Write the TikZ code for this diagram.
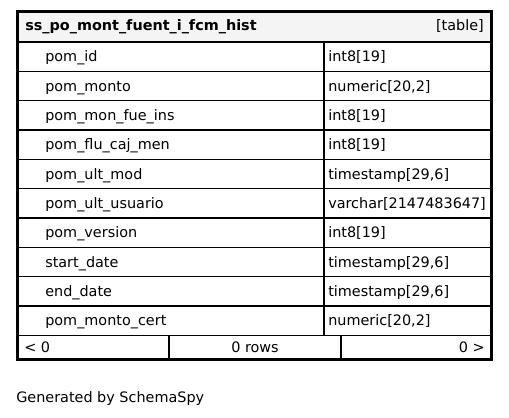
\documentclass[tikz,border=0pt]{standalone}
\usepackage{fontspec}
\setmainfont{DejaVu Sans}
\definecolor{headgray}{HTML}{F4F4F4}
\tikzset{
    cell/.style={anchor=base west,inner sep=0pt,font=\fontsize{10.8}{13}\selectfont},
    thinline/.style={line width=0.95pt},
    thickline/.style={line width=2.25pt}
}
\begin{document}
\begin{tikzpicture}[x=0.75pt,y=-0.75pt]
                \useasboundingbox (0,0) rectangle (509,417);

                % header
                \fill[headgray] (17.5,12) rectangle (491.5,42);
                \node[cell,font=\fontsize{10.8}{13}\selectfont\bfseries] (title) at (25,30.5){ss\_po\_mont\_fuent\_i\_fcm\_hist};
                \node[cell,anchor=base east] (kind) at (484,30.5){[table]};

                % columns
                \foreach \nm/\ty [count=\i from 0] in
                    {pom\_id/int8[19], pom\_monto/{numeric[20,2]}, pom\_mon\_fue\_ins/int8[19],
                     pom\_flu\_caj\_men/int8[19], pom\_ult\_mod/{timestamp[29,6]},
                     pom\_ult\_usuario/varchar[2147483647], pom\_version/int8[19],
                     start\_date/{timestamp[29,6]}, end\_date/{timestamp[29,6]},
                     pom\_monto\_cert/{numeric[20,2]}}
                    {
                        \draw[thinline] (17.5,42+\i*29.33) -- (491.5,42+\i*29.33);
                        \draw[thinline] (324,42+\i*29.33) -- (324,71.33+\i*29.33);
                        \node[cell] (col\i) at (45,62+\i*29.33){\nm};
                        \node[cell] (typ\i) at (328,62+\i*29.33){\ty};
                    }
                \draw[thinline] (17.5,335.3) -- (491.5,335.3);

                % footer
                \draw[thinline] (169,335.3) -- (169,359.5);
                \draw[thinline] (341,335.3) -- (341,359.5);
                \node[cell] (parents) at (24,352){< 0};
                \node[cell,anchor=base] (rows) at (255,352){0 rows};
                \node[cell,anchor=base east] (children) at (485,352){0 >};

                \draw[thickline] (17.5,12) rectangle (491.5,359.5);

                \node[cell] (gen) at (16,402){Generated by SchemaSpy};
            \end{tikzpicture}
\end{document}
